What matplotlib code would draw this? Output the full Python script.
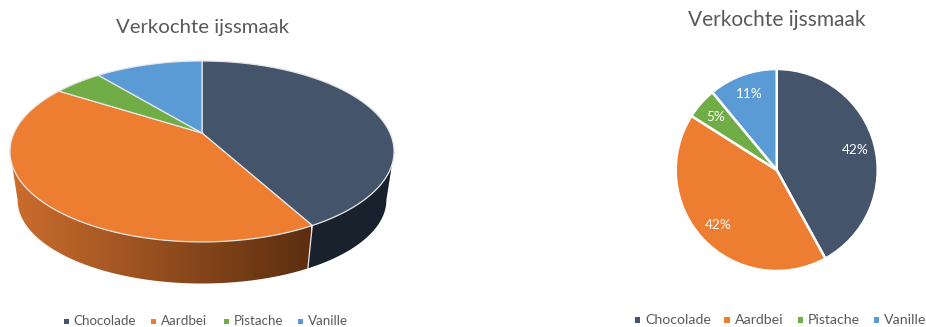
import numpy as np
import matplotlib
matplotlib.use('Agg')
import matplotlib.pyplot as plt
from matplotlib.patches import Polygon, Rectangle

plt.rcParams['font.family'] = ['Lato', 'DejaVu Sans']

title = 'Verkochte ijssmaak'
flavours = ['Chocolade', 'Aardbei', 'Pistache', 'Vanille']
shares = [42, 42, 5, 11]
colors = ['#44546A', '#ED7D31', '#70AD47', '#5B9BD5']
grey = '#595959'

W, H = 926, 327
fig = plt.figure(figsize=(W / 100, H / 100), dpi=100, facecolor='white')

# full-figure canvas in pixel coordinates for the tilted pie and the legends
ax = fig.add_axes([0, 0, 1, 1])
ax.set_xlim(0, W)
ax.set_ylim(H, 0)
ax.axis('off')

# perspective projection of the disc, angle is clockwise from 12 o'clock
K = 0.204


def rim(theta, a, b, yc, xc=202):
    d = 1 + K * np.cos(theta)
    return np.column_stack([xc + a * np.sin(theta) / d, yc - b * np.cos(theta) / d])


def top_rim(theta):
    return rim(theta, 188, 86.7, 133)


def low_rim(theta):
    return rim(theta, 180.5, 80, 183)


edges = np.radians(np.cumsum([0] + shares) * 3.6)
t_right = np.arccos(-K)
t_left = 2 * np.pi - t_right

# side wall
t = np.linspace(t_right, edges[1], 80)
ax.add_patch(Polygon(np.vstack([top_rim(t), low_rim(t)[::-1]]), fc='#19212C', ec='none', zorder=1))

t = np.linspace(edges[1], t_left, 160)
wall = Polygon(np.vstack([top_rim(t), low_rim(t)[::-1]]), fc='none', ec='none', zorder=2)
ax.add_patch(wall)
shade = np.linspace(0, 1, 256)[None, :, None]
dark_end = np.array([0.36, 0.18, 0.06])
light_end = np.array([0.80, 0.43, 0.18])
img = ax.imshow(light_end + (dark_end - light_end) * shade, extent=(10, 311, 290, 140),
                aspect='auto', zorder=2)
img.set_clip_path(wall)
ax.set_xlim(0, W)
ax.set_ylim(H, 0)

# seam between the two visible wall pieces
seam = np.vstack([top_rim(edges[1:2]), low_rim(edges[1:2])])
ax.plot(seam[:, 0], seam[:, 1], color='#E6E6E6', lw=0.9, zorder=3)

# top face
for i in range(len(shares)):
    t = np.linspace(edges[i], edges[i + 1], 120)
    pts = np.vstack([[[202, 133]], top_rim(t)])
    ax.add_patch(Polygon(pts, fc=colors[i], ec='#E6E6E6', lw=0.9, joinstyle='round', zorder=4))

ax.text(202.5, 27, title, ha='center', va='center', fontsize=14.65, color=grey)
ax.text(776.5, 20, title, ha='center', va='center', fontsize=15, color=grey)

# legends
left_x = [66, 153.5, 226, 300.5]
right_x = [637.5, 727, 800.5, 876.5]
for xs, y, size, box in [(left_x, 321, 9.6, 5), (right_x, 320, 10.2, 5.5)]:
    for x, name, c in zip(xs, flavours, colors):
        ax.add_patch(Rectangle((x - box / 2, y - box / 2), box, box, fc=c, ec='none'))
        ax.text(x + 7.5, y, name, ha='left', va='center', fontsize=size, color=grey)

# flat pie on the right
pie_ax = fig.add_axes([675.7 / W, 1 - 271 / H, 202 / W, 202 / H])
wedges, texts, pct = pie_ax.pie(shares, colors=colors, startangle=90, counterclock=False,
                                radius=1, autopct='%.0f%%', pctdistance=0.8,
                                wedgeprops=dict(edgecolor='white', linewidth=1.8))
for p in pct:
    p.set_color('white')
    p.set_fontsize(9.8)
pie_ax.set_xlim(-1, 1)
pie_ax.set_ylim(-1, 1)

fig.savefig('out.png', dpi=100)
